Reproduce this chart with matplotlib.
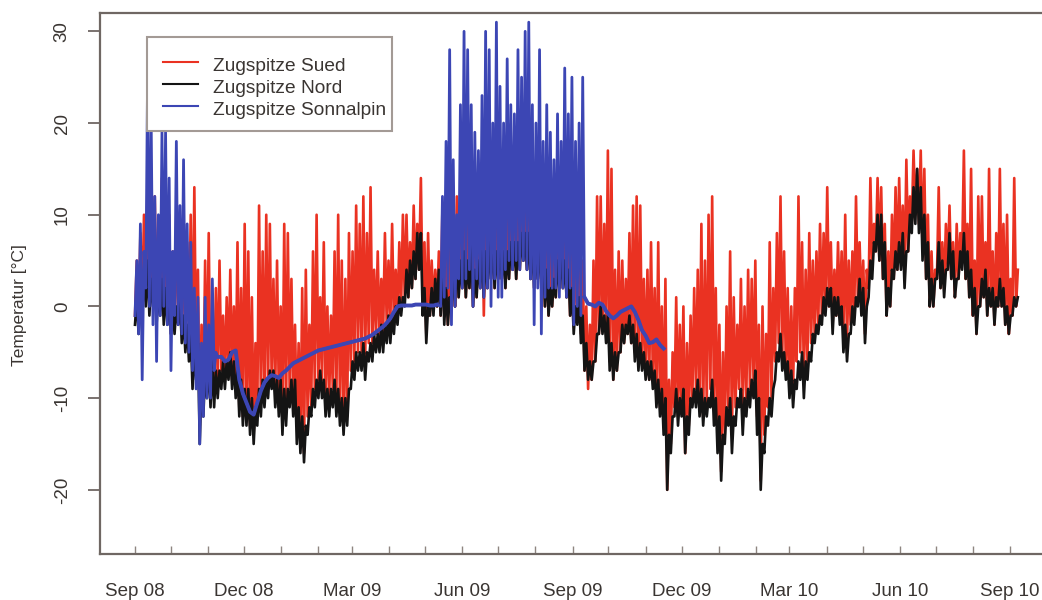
import numpy as np
import pandas as pd
import matplotlib
matplotlib.use("Agg")
import matplotlib.pyplot as plt
import matplotlib.dates as mdates
from matplotlib.lines import Line2D
from matplotlib.patches import Rectangle

plt.rcParams['font.family'] = ['Liberation Sans', 'DejaVu Sans']
plt.rcParams['axes.unicode_minus'] = False

STEP = 3  # days between successive daily-extreme samples

# Zugspitze Sued: daily low / daily high, every 3 days from 2008-09-01
sued_start = "2008-09-01"
sued_lo = [
    -1, -2, 0, 1, 0, 1, -1, 0, -1, -1, -3,
    -2, -1, -3, -4, -3, -6, -6, -13, -10, -9,
    -10, -9, -8, -7, -8, -7, -8, -9, -11, -12,
    -12, -13, -14, -12, -10, -10, -9, -8, -9, -10,
    -12, -11, -9, -10, -13, -15, -16, -12, -11, -9,
    -8, -8, -10, -10, -9, -10, -11, -13, -12,
    -7, -6, -5, -5, -6, -4, -4, -3, -4, -3, -2,
    -2, -2, -1, 0, 1, 1, 2, 3, 4, 0,
    -3, -1, 0, 0, -1, -1, -2, 0, 0, 1,
    2, 1, 2, 0, 1, 2, -1, 2, 3, 2,
    3, 3, 2, 3, 4, 3, 4, 5, 4, 3,
    2, 3, 2, 0, -1, 0, 1, 2, 2, 1,
    -1, -2, -1, -3, -7, -9, -8, -6, -3, -2,
    -3, -6, -8, -7, -5, -4, -3, -4, -5, -6,
    -6, -7, -8, -8, -10, -11, -13, -20, -15, -11,
    -12, -11, -16, -13, -10, -9, -11, -12, -11, -9,
    -11, -14, -18, -14, -11, -14, -11, -9, -11, -10,
    -9, -8, -12, -19, -14, -11, -10, -6, -4,
    -5, -7, -9, -9, -6, -5, -8, -6, -4, -3, -2,
    -1, 0, 0, -2, -1, -1, -3, -4, -2, -1,
    1, 0, -3, 2, 4, 6, 5, 3, -1, 0,
    3, 4, 5, 3, 6, 9, 10, 9, 6, 3,
    0, 0, 3, 2, 2, 4, 3, 1, 3, 5,
    3, 1, -1, -3, 0, 1, -1, 0, -2, 0,
    0, -2, -3, -1, 0,
]
sued_hi = [
    5, 8, 10, 14, 8, 12, 9, 14, 12, 10, 6,
    10, 8, 9, 7, 10, 13, 4, -2, 5, 8,
    -3, 2, 5, -1, 1, 4, 0, 7, 2, 9,
    6, 1, -4, 11, 6, 10, 9, 3, 5, 0,
    9, 8, 3, -2, -4, 2, 4, -2, 6, 10,
    1, 7, 0, -1, 6, 10, 5, 3, 8,
    6, 11, 9, 12, 8, 13, 4, 6, 3, 8, 5,
    9, 4, 7, 10, 10, 7, 11, 9, 14, 7,
    8, 5, 4, 6, 11, 10, 7, 5, 12, 8,
    12, 10, 14, 9, 12, 13, 10, 14, 15, 12,
    14, 12, 11, 14, 15, 13, 15, 16, 15, 13,
    12, 14, 11, 9, 8, 10, 12, 13, 11, 10,
    8, 6, 9, 5, 0, -2, 5, 12, 12, 9,
    17, 15, 4, 6, 5, 3, 8, 11, 12, 11,
    3, 4, 7, 2, 7, 0, 3, -8, -5, 1,
    -2, 0, -4, -1, 2, 4, 9, 5, 10, 12,
    2, -2, -5, 0, 6, 1, -2, 3, 0, 4,
    3, 5, -2, 0, -3, 7, 2, 8, 12,
    6, 2, 0, 2, 12, 7, 4, 8, 5, 6, 9,
    8, 13, 7, 4, 7, 6, 10, 5, 6, 12,
    7, 5, 4, 14, 9, 14, 13, 9, 6, 10,
    13, 14, 11, 16, 12, 17, 15, 17, 15, 10,
    6, 4, 13, 7, 9, 11, 7, 9, 8, 17,
    9, 15, 5, 12, 12, 7, 15, 6, 8, 15,
    9, 10, 3, 14, 4,
]

# Zugspitze Nord: daily low / daily high, every 3 days from 2008-09-01
nord_start = "2008-09-01"
nord_lo = [
    -2, -3, -1, 0, -1, 0, -2, -1, -2, -2, -3,
    -3, -2, -4, -5, -6, -9, -8, -15, -12, -10,
    -11, -11, -10, -9, -9, -8, -9, -10, -12, -13,
    -13, -14, -15, -13, -12, -11, -10, -9, -11, -12,
    -14, -13, -11, -12, -15, -16, -17, -14, -12, -11,
    -10, -10, -12, -12, -11, -12, -13, -14, -13,
    -9, -8, -7, -7, -8, -6, -6, -5, -5, -5, -4,
    -4, -3, -2, -1, 0, 1, 2, 3, 4, -1,
    -4, -1, -1, 0, -1, -2, -2, 0, 0, 1,
    2, 1, 2, 0, 1, 2, 1, 2, 3, 2,
    3, 3, 2, 3, 4, 3, 4, 5, 4, 3,
    2, 3, 2, 0, -1, 0, 1, 2, 2, 1,
    -1, -3, -2, -4, -7, -8, -8, -6, -3, -3,
    -4, -7, -8, -7, -5, -4, -3, -4, -6, -7,
    -7, -8, -8, -9, -11, -12, -14, -20, -16, -12,
    -13, -12, -16, -14, -11, -11, -12, -13, -12, -11,
    -13, -16, -19, -15, -13, -16, -13, -11, -14, -12,
    -11, -10, -14, -20, -16, -13, -12, -8, -6,
    -7, -8, -10, -11, -9, -8, -10, -8, -6, -4, -3,
    -2, -1, 0, -3, -1, -2, -5, -6, -3, -2,
    0, -1, -4, 1, 3, 6, 5, 3, -1, 0,
    3, 4, 4, 2, 6, 8, 9, 8, 5, 3,
    0, 0, 3, 2, 1, 4, 3, 1, 3, 4,
    3, 1, -1, -3, 0, 1, -1, 0, -2, 0,
    0, -2, -3, -1, 0,
]
nord_hi = [
    1, 2, 4, 5, 3, 4, 2, 3, 2, 1, 0,
    0, 1, -1, -2, -3, -5, -4, -8, -7, -6,
    -6, -7, -7, -6, -6, -5, -6, -7, -8, -9,
    -9, -10, -11, -9, -8, -8, -7, -7, -8, -8,
    -9, -9, -8, -8, -11, -12, -13, -11, -9, -8,
    -7, -8, -9, -9, -8, -9, -10, -10, -9,
    -6, -5, -5, -4, -5, -4, -3, -3, -2, -2, -1,
    -1, 0, 1, 1, 4, 5, 6, 8, 8, 2,
    0, 2, 3, 4, 5, 2, 1, 4, 6, 5,
    6, 5, 7, 4, 5, 6, 6, 7, 7, 6,
    7, 6, 6, 7, 7, 7, 8, 8, 8, 7,
    6, 7, 5, 4, 2, 3, 5, 6, 5, 4,
    2, 0, 1, -1, -4, -6, -6, -3, 0, -1,
    -1, -4, -5, -5, -2, -2, -1, -2, -3, -4,
    -5, -6, -6, -7, -8, -9, -10, -14, -12, -9,
    -10, -9, -12, -10, -9, -8, -9, -10, -10, -8,
    -10, -12, -14, -11, -10, -12, -10, -9, -10, -9,
    -8, -7, -10, -15, -12, -10, -9, -5, -3,
    -5, -6, -7, -8, -6, -5, -6, -5, -3, -2, -1,
    1, 2, 2, 1, 1, 0, -2, -3, 0, 1,
    3, 2, 0, 5, 7, 10, 10, 7, 2, 4,
    6, 7, 8, 6, 10, 13, 15, 13, 10, 7,
    3, 3, 7, 5, 4, 8, 6, 3, 6, 8,
    6, 4, 2, 0, 3, 4, 2, 2, 1, 3,
    2, 0, -1, 1, 1,
]

# Zugspitze Sonnalpin, four stretches
sonn_a_start = "2008-09-01"   # freely ventilated, daily low / high
sonn_a_lo = [-1, -3, -8, 2, 0, -2, -6, -1, 0, -2, -7,
             -1, -2, -3, -4, -5, -7, -9, -15, -12, -10, -10, -7]
sonn_a_hi = [5, 9, 6, 25, 20, 12, 10, 19, 19, 14, 6,
             18, 11, 16, 9, 7, 2, 1, -4, 1, -2, 3, -5]

sonn_b_start = "2008-11-09"   # sensor under snow
sonn_b = [-5.5, -5.5, -6, -5.8, -5, -4.8, -8, -9.5,
          -10.5, -11.5, -11.8, -10.5, -9.2, -8.3, -7.8, -7.5, -7.6, -7.8,
          -7.3, -7, -6.6, -6.2, -6, -5.8, -5.6, -5.4, -5.2, -5,
          -4.8, -4.7, -4.6, -4.5, -4.4, -4.3, -4.2, -4.1, -4, -3.9,
          -3.8, -3.7, -3.6, -3.5, -3.3, -3.1, -2.8, -2.5, -2.2, -1.8,
          -1.3, -0.6, 0, 0.1, 0.1, 0.1, 0.1, 0.2, 0.2, 0.2, 0.2, 0.1, 0.1, 0.2]

sonn_c_start = "2009-05-14"
sonn_c_lo = [0, 1, 2, -2, 0, 3, 2, 3, 4, 0, 3, 2, 1, 2, 0, 3, 1, 1, 4, 5,
             4, 5, 4, 5, 4, 3, -2, 2, -3, 1, 2, 2, 2, 1, 2, 1, 2, -2, 0, -1]
sonn_c_hi = [12, 18, 28, 16, 10, 22, 30, 28, 22, 19, 17, 23, 30, 28, 20, 31, 24, 20, 27, 22,
             21, 28, 25, 30, 31, 22, 20, 28, 18, 22, 19, 16, 21, 18, 26, 21, 25, 18, 20, 25]

sonn_d_start = "2009-09-11"
sonn_d = [1, 0.3, 0.2, 0, 0.4, 0.2, -0.5, -1, -1.3, -1, -0.6, -0.4,
          -0.2, 0, -0.6, -1.5, -2.6, -3.2, -4, -3.9, -3.6, -4.2, -4.6]

SERIES_NAMES = ["Zugspitze Sued", "Zugspitze Nord", "Zugspitze Sonnalpin"]
COLORS = ["#ea3222", "#141414", "#3c46b4"]


def sample_days(start, n):
    return mdates.date2num(pd.Timestamp(start)) + STEP * np.arange(n)


def band(start, lo, hi):
    """Zig-zag path alternating between daily low and daily high."""
    t = sample_days(start, len(lo))
    x = np.column_stack([t, t + STEP / 2]).ravel()
    y = np.column_stack([np.asarray(lo, float), np.asarray(hi, float)]).ravel()
    return x, y


def trace(start, vals):
    return sample_days(start, len(vals)), np.asarray(vals, float)


W, H = 1042, 600
fig = plt.figure(figsize=(W / 100, H / 100), dpi=100)
ax = fig.add_axes([100 / W, 46 / H, 946 / W, 541 / H])


def fx(px):
    return px / W


def fy(py):
    return 1 - py / H


xs, ys = band(sued_start, sued_lo, sued_hi)
ax.plot(xs, ys, color=COLORS[0], lw=1.9, zorder=2)
xn, yn = band(nord_start, nord_lo, nord_hi)
ax.plot(xn, yn, color=COLORS[1], lw=1.9, zorder=3)

pa = band(sonn_a_start, sonn_a_lo, sonn_a_hi)
pb = trace(sonn_b_start, sonn_b)
pc = band(sonn_c_start, sonn_c_lo, sonn_c_hi)
pd_ = trace(sonn_d_start, sonn_d)
bx = np.concatenate([pa[0], pb[0], pc[0], pd_[0]])
by = np.concatenate([pa[1], pb[1], pc[1], pd_[1]])
ax.plot(bx, by, color=COLORS[2], lw=2.0, zorder=4)
ax.plot(pb[0], pb[1], color=COLORS[2], lw=2.8, zorder=4)
ax.plot(pd_[0], pd_[1], color=COLORS[2], lw=2.8, zorder=4)

# axes ranges
t0 = mdates.date2num(pd.Timestamp("2008-09-01"))
ax.set_xlim(t0 - 29.2, t0 + 760)
ax.set_ylim(-27, 32)

# month ticks, labelled every three months
months = pd.date_range("2008-09-01", "2010-09-01", freq="MS")
ax.set_xticks(mdates.date2num(months))
ax.set_xticklabels([m.strftime("%b %y") if m.month in (3, 6, 9, 12) else "" for m in months])
ax.set_yticks([-20, -10, 0, 10, 20, 30])

spine_col = "#6f6763"
for s in ax.spines.values():
    s.set_color(spine_col)
    s.set_linewidth(1.6)

ax.tick_params(axis='x', direction='in', length=6, width=1, color="#8e8580",
               labelsize=13.5, labelcolor="#3a3532", pad=21)
ax.tick_params(axis='y', direction='out', length=9, width=1.3, color=spine_col,
               labelsize=13.5, labelcolor="#3a3532", pad=12)
for lbl in ax.get_yticklabels():
    lbl.set_rotation(90)
    lbl.set_va('center')

fig.text(fx(20), fy(305), "Temperatur [°C]", rotation=90, ha='center', va='center',
         fontsize=12.5, color="#3a3532")

# legend box with line keys
fig.add_artist(Rectangle((fx(147), fy(131)), fx(245), 94 / H, transform=fig.transFigure,
                         facecolor="white", edgecolor="#a39a95", lw=1.5, zorder=5))
for k, (name, col) in enumerate(zip(SERIES_NAMES, COLORS)):
    yl = 62 + 22 * k
    fig.add_artist(Line2D([fx(163), fx(198)], [fy(yl), fy(yl)], transform=fig.transFigure,
                          color=col, lw=1.5, zorder=6))
    fig.text(fx(213), fy(yl + 9), name, ha='left', va='baseline', fontsize=13.8,
             color="#3a3532", zorder=6)

fig.savefig("out.png", dpi=100)
